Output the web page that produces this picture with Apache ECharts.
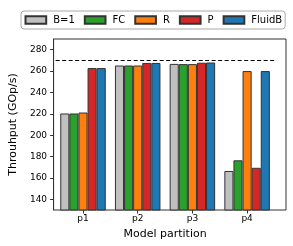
<!DOCTYPE html>
<html><head><meta charset="utf-8">
<script src="https://cdn.jsdelivr.net/npm/echarts@6/dist/echarts.min.js"></script>
<style>html,body{margin:0;padding:0;background:#fff}#c{width:293px;height:246px}</style>
</head><body><div id="c"></div>
<script>
const categories = ['p1', 'p2', 'p3', 'p4'];
const seriesNames = ['B=1', 'FC', 'R', 'P', 'FluidB'];
const valsB1 = [220.3, 265.2, 266.7, 166.5];
const valsFC = [220.3, 265.2, 266.5, 176.5];
const valsR = [221.2, 265.2, 266.5, 260];
const valsP = [262.8, 267.6, 267.8, 169.5];
const valsFluidB = [262.8, 267.6, 268, 260];
const refLine = 270;
const yTicks = [140, 160, 180, 200, 220, 240, 260, 280];
const colors = ['#c0c0c0', '#2ca02c', '#ff7f0e', '#d62728', '#1f77b4'];
const allVals = [valsB1, valsFC, valsR, valsP, valsFluidB];

const font = 'DejaVu Sans';
const chart = echarts.init(document.getElementById('c'), null, {renderer: 'canvas'});
const series = allVals.map((v, i) => ({
  name: seriesNames[i], type: 'bar', xAxisIndex: 1, yAxisIndex: 1,
  data: v, barWidth: 9.1, barGap: '0%',
  itemStyle: {color: colors[i], borderColor: '#333', borderWidth: 1},
  emphasis: {disabled: true},
  markLine: i === 0 ? {
    silent: true, symbol: 'none', label: {show: false},
    lineStyle: {color: '#000', type: [4, 2.5], width: 1.2},
    data: [{yAxis: refLine}]
  } : undefined
}));
chart.setOption({
  animation: false,
  textStyle: {fontFamily: font},
  legend: {
    left: 21, top: 11, width: 300, padding: [4, 3, 4, 3.5], itemGap: 9,
    itemWidth: 20.7, itemHeight: 7.5, icon: 'rect',
    borderColor: '#aaa', borderWidth: 1, borderRadius: 3,
    textStyle: {fontFamily: font, fontSize: 10, color: '#000', padding: [0, 0, 0, 2]},
    data: seriesNames
  },
  grid: [
    {left: 46, right: 7, top: 39, bottom: 36, show: true, borderColor: '#333', borderWidth: 1},
    {left: 55.65, right: 18.55, top: 39, bottom: 36}
  ],
  xAxis: [
    {type: 'value', gridIndex: 0, show: false, min: 0, max: 1},
    {type: 'category', gridIndex: 1, data: categories,
     axisLine: {show: false},
     axisTick: {show: true, alignWithLabel: true, length: 3.5, lineStyle: {color: '#333'}},
     axisLabel: {fontFamily: font, fontSize: 9, color: '#000', margin: 4.5},
     name: 'Model partition', nameLocation: 'middle', nameGap: 15,
     nameTextStyle: {fontFamily: font, fontSize: 11, color: '#000'}}
  ],
  yAxis: [
    {type: 'value', gridIndex: 0, min: 130, max: 290,
     axisLine: {show: true, lineStyle: {color: '#333'}},
     axisTick: {show: true, length: 3.5, customValues: yTicks, lineStyle: {color: '#333'}},
     axisLabel: {fontFamily: font, fontSize: 9, color: '#000', margin: 6.5, customValues: yTicks},
     splitLine: {show: false},
     name: 'Throuhput (GOp/s)', nameLocation: 'middle', nameGap: 26,
     nameTextStyle: {fontFamily: font, fontSize: 11, color: '#000'}},
    {type: 'value', gridIndex: 1, min: 130, max: 290, show: false, splitLine: {show: false}}
  ],
  series: series
});
</script></body></html>
